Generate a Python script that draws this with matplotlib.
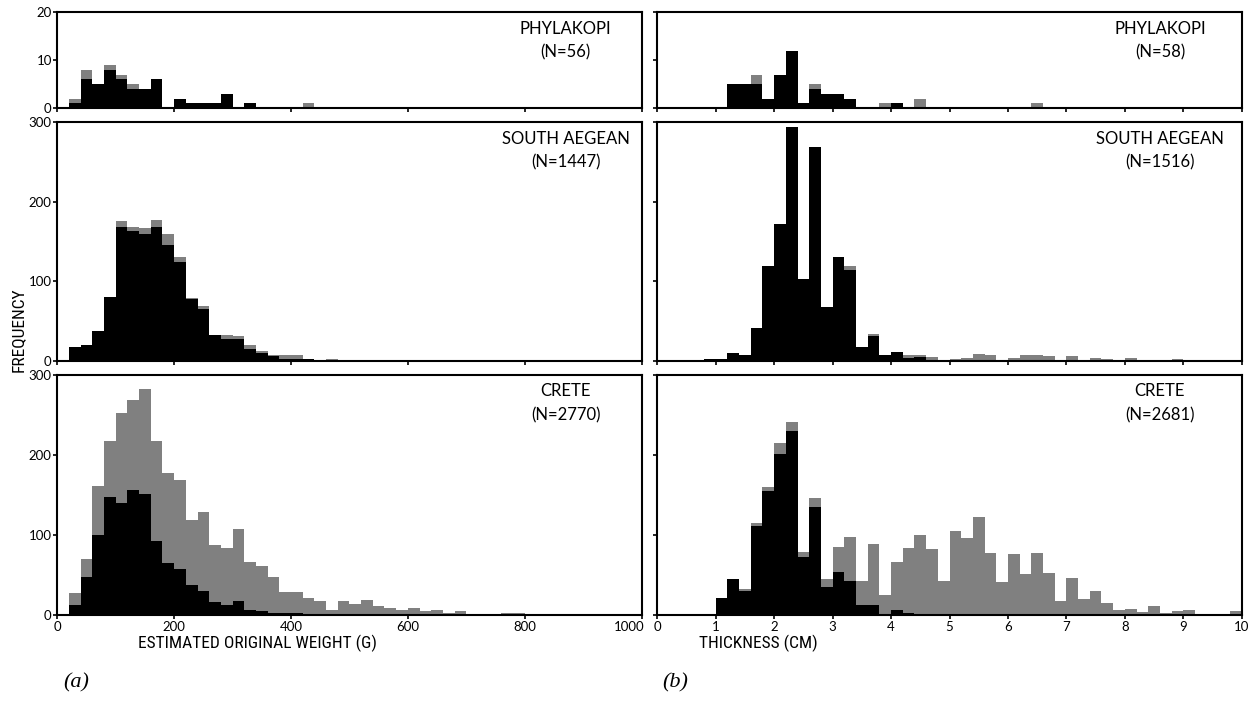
import matplotlib
matplotlib.use("Agg")
import matplotlib.pyplot as plt
from matplotlib import font_manager
import matplotlib.transforms as mtransforms
import numpy as np

# ---------------- data ----------------
# weight bins (g): 0,20,...,980 (bin width 20)
weight_bin_width = 20
weight_bin_starts = list(range(0, 1000, 20))
# thickness bins (cm): 0.0,0.2,...,9.8 (bin width 0.2)
thick_bin_width = 0.2
thick_bin_starts = [round(i * 0.2, 1) for i in range(50)]

# Phylakopi - weight
phy_w_total = [0, 2, 8, 5, 9, 7, 5, 4, 6, 0, 2, 1, 1, 1, 3, 0, 1, 0, 0, 0,
               0, 1, 0, 0, 0, 0, 0, 0, 0, 0, 0, 0, 0, 0, 0, 0, 0, 0, 0, 0,
               0, 0, 0, 0, 0, 0, 0, 0, 0, 0]
phy_w_black = [0, 1, 6, 5, 8, 6, 4, 4, 6, 0, 2, 1, 1, 1, 3, 0, 1, 0, 0, 0,
               0, 0, 0, 0, 0, 0, 0, 0, 0, 0, 0, 0, 0, 0, 0, 0, 0, 0, 0, 0,
               0, 0, 0, 0, 0, 0, 0, 0, 0, 0]
# South Aegean - weight
sa_w_total = [0, 18, 20, 38, 80, 176, 169, 167, 177, 159, 131, 79, 69, 33, 33, 32, 20, 13, 8, 7,
              8, 3, 1, 2, 1, 0, 0, 0, 1, 0, 0, 0, 0, 0, 0, 0, 0, 0, 0, 0,
              0, 0, 0, 0, 0, 0, 0, 0, 0, 0]
sa_w_black = [0, 18, 20, 38, 80, 168, 163, 159, 168, 146, 125, 78, 65, 33, 28, 28, 15, 10, 6, 3,
              3, 3, 0, 1, 1, 0, 0, 0, 1, 0, 0, 0, 0, 0, 0, 0, 0, 0, 0, 0,
              0, 0, 0, 0, 0, 0, 0, 0, 0, 0]
# Crete - weight
cr_w_total = [0, 27, 70, 161, 217, 253, 269, 282, 217, 178, 169, 119, 129, 87, 84, 107, 66, 61, 48, 29,
              29, 21, 17, 6, 18, 14, 19, 11, 9, 6, 9, 5, 6, 2, 5, 1, 1, 1, 2, 3,
              1, 0, 1, 0, 1, 0, 0, 1, 0, 1]
cr_w_black = [0, 13, 48, 100, 147, 140, 156, 151, 93, 65, 57, 38, 30, 16, 13, 17, 6, 5, 3, 2,
              2, 1, 1, 0, 1, 0, 1, 0, 0, 0, 0, 0, 0, 0, 0, 0, 0, 0, 0, 0,
              0, 0, 0, 0, 0, 0, 0, 0, 0, 0]

# Phylakopi - thickness
phy_t_total = [0, 0, 0, 0, 0, 0, 5, 5, 7, 2, 7, 12, 1, 5, 3, 3, 2, 0, 0, 1,
               1, 0, 2, 0, 0, 0, 0, 0, 0, 0, 0, 0, 1, 0, 0, 0, 0, 0, 0, 0,
               0, 0, 0, 0, 0, 0, 0, 0, 0, 0]
phy_t_black = [0, 0, 0, 0, 0, 0, 5, 5, 5, 2, 7, 12, 1, 4, 3, 3, 2, 0, 0, 0,
               1, 0, 0, 0, 0, 0, 0, 0, 0, 0, 0, 0, 0, 0, 0, 0, 0, 0, 0, 0,
               0, 0, 0, 0, 0, 0, 0, 0, 0, 0]
# South Aegean - thickness
sa_t_total = [0, 0, 0, 0, 3, 2, 10, 7, 41, 119, 172, 294, 103, 269, 68, 131, 120, 17, 34, 8,
              11, 8, 7, 5, 1, 2, 4, 9, 8, 1, 4, 7, 7, 6, 0, 6, 1, 4, 2, 0,
              4, 0, 1, 0, 2, 0, 1, 0, 0, 1]
sa_t_black = [0, 0, 0, 0, 3, 2, 10, 7, 41, 119, 172, 294, 103, 269, 68, 131, 114, 17, 31, 8,
              11, 4, 5, 1, 1, 0, 0, 0, 0, 0, 0, 0, 0, 0, 0, 0, 0, 0, 0, 0,
              0, 0, 0, 0, 0, 0, 0, 0, 0, 0]
# Crete - thickness
cr_t_total = [0, 0, 0, 0, 1, 21, 45, 33, 115, 160, 215, 241, 79, 146, 45, 85, 98, 42, 89, 25,
              66, 84, 100, 82, 42, 105, 96, 122, 77, 41, 76, 51, 77, 52, 18, 46, 20, 30, 15, 6,
              7, 4, 11, 2, 5, 6, 1, 0, 0, 5]
cr_t_black = [0, 0, 0, 0, 1, 21, 45, 30, 111, 155, 201, 230, 73, 135, 35, 54, 42, 12, 12, 0,
              6, 2, 1, 0, 0, 0, 1, 0, 0, 0, 0, 0, 0, 0, 0, 0, 1, 0, 0, 0,
              0, 0, 0, 0, 0, 0, 0, 0, 0, 0]

region_names = ["PHYLAKOPI", "SOUTH AEGEAN", "CRETE"]
weight_n = [56, 1447, 2770]
thick_n = [58, 1516, 2681]

weight_series = [(phy_w_total, phy_w_black), (sa_w_total, sa_w_black), (cr_w_total, cr_w_black)]
thick_series = [(phy_t_total, phy_t_black), (sa_t_total, sa_t_black), (cr_t_total, cr_t_black)]
y_limits = [20, 300, 300]
y_ticks = [[0, 10, 20], [0, 100, 200, 300], [0, 100, 200, 300]]

# ---------------- fonts ----------------
plt.rcParams['font.family'] = ['Lato', 'DejaVu Sans']
names = {f.name for f in font_manager.fontManager.ttflist}
LABEL_FAMILY = ['Roboto Condensed', 'DejaVu Sans'] if 'Roboto Condensed' in names else ['Lato', 'DejaVu Sans']
LAB_FS = 12.5 if 'Roboto Condensed' in names else 10.5
TICK_FS, REG_FS = 9.5, 12

W, H = 1255, 702
fig = plt.figure(figsize=(W / 100, H / 100), dpi=100)

GRAY = '#808080'

def px_rect(x0, x1, ytop, ybot):
    return [x0 / W, 1 - ybot / H, (x1 - x0) / W, (ybot - ytop) / H]

rows = [(12.3, 108.3), (122.3, 361.0), (375.0, 615.0)]
cols = [(57.3, 641.5), (657.3, 1241.7)]

for r in range(3):
    for c in range(2):
        ax = fig.add_axes(px_rect(cols[c][0], cols[c][1], rows[r][0], rows[r][1]))
        if c == 0:
            starts, bw, (tot, blk) = weight_bin_starts, weight_bin_width, weight_series[r]
            ax.set_xlim(0, 1000)
            ax.set_xticks([0, 200, 400, 600, 800, 1000])
            n = weight_n[r]
        else:
            starts, bw, (tot, blk) = thick_bin_starts, thick_bin_width, thick_series[r]
            ax.set_xlim(0, 10)
            ax.set_xticks(range(0, 11))
            n = thick_n[r]
        ax.bar(starts, tot, width=bw, align='edge', color=GRAY, linewidth=0)
        ax.bar(starts, blk, width=bw, align='edge', color='black', linewidth=0)
        ax.set_ylim(0, y_limits[r])
        ax.set_yticks(y_ticks[r])
        for s in ax.spines.values():
            s.set_linewidth(1.5)
        ax.tick_params(direction='out', length=3, width=1.2, labelsize=TICK_FS, pad=1)
        if c == 1:
            ax.set_yticklabels([])
        if r < 2:
            ax.set_xticklabels([])
        if r == 2 and c == 0:
            # keep "1000" clear of the neighbouring panel's "0"
            last = ax.get_xticklabels()[-1]
            last.set_horizontalalignment('right')
            last.set_transform(last.get_transform() +
                               mtransforms.ScaledTranslation(3 / 100, 0, fig.dpi_scale_trans))
        xc = 0.87 if c == 0 else 0.86
        hgt = rows[r][1] - rows[r][0]
        ax.text(xc, 1 - 16.5 / hgt, region_names[r], transform=ax.transAxes,
                ha='center', va='center', fontsize=REG_FS)
        ax.text(xc, 1 - 40 / hgt, f"(N={n})", transform=ax.transAxes,
                ha='center', va='center', fontsize=REG_FS)

fig.text(18 / W, 1 - 330 / H, "FREQUENCY", rotation=90, ha='center', va='center',
         fontsize=LAB_FS, family=LABEL_FAMILY)
fig.text(258 / W, 1 - 643 / H, "ESTIMATED ORIGINAL WEIGHT (G)", ha='center', va='center',
         fontsize=LAB_FS, family=LABEL_FAMILY)
fig.text(758 / W, 1 - 643 / H, "THICKNESS (CM)", ha='center', va='center',
         fontsize=LAB_FS, family=LABEL_FAMILY)
fig.text(76 / W, 1 - 683 / H, "(a)", ha='center', va='center', fontsize=16,
         family='Liberation Serif', style='italic')
fig.text(675 / W, 1 - 683 / H, "(b)", ha='center', va='center', fontsize=16,
         family='Liberation Serif', style='italic')

fig.savefig("out.png", dpi=100)
